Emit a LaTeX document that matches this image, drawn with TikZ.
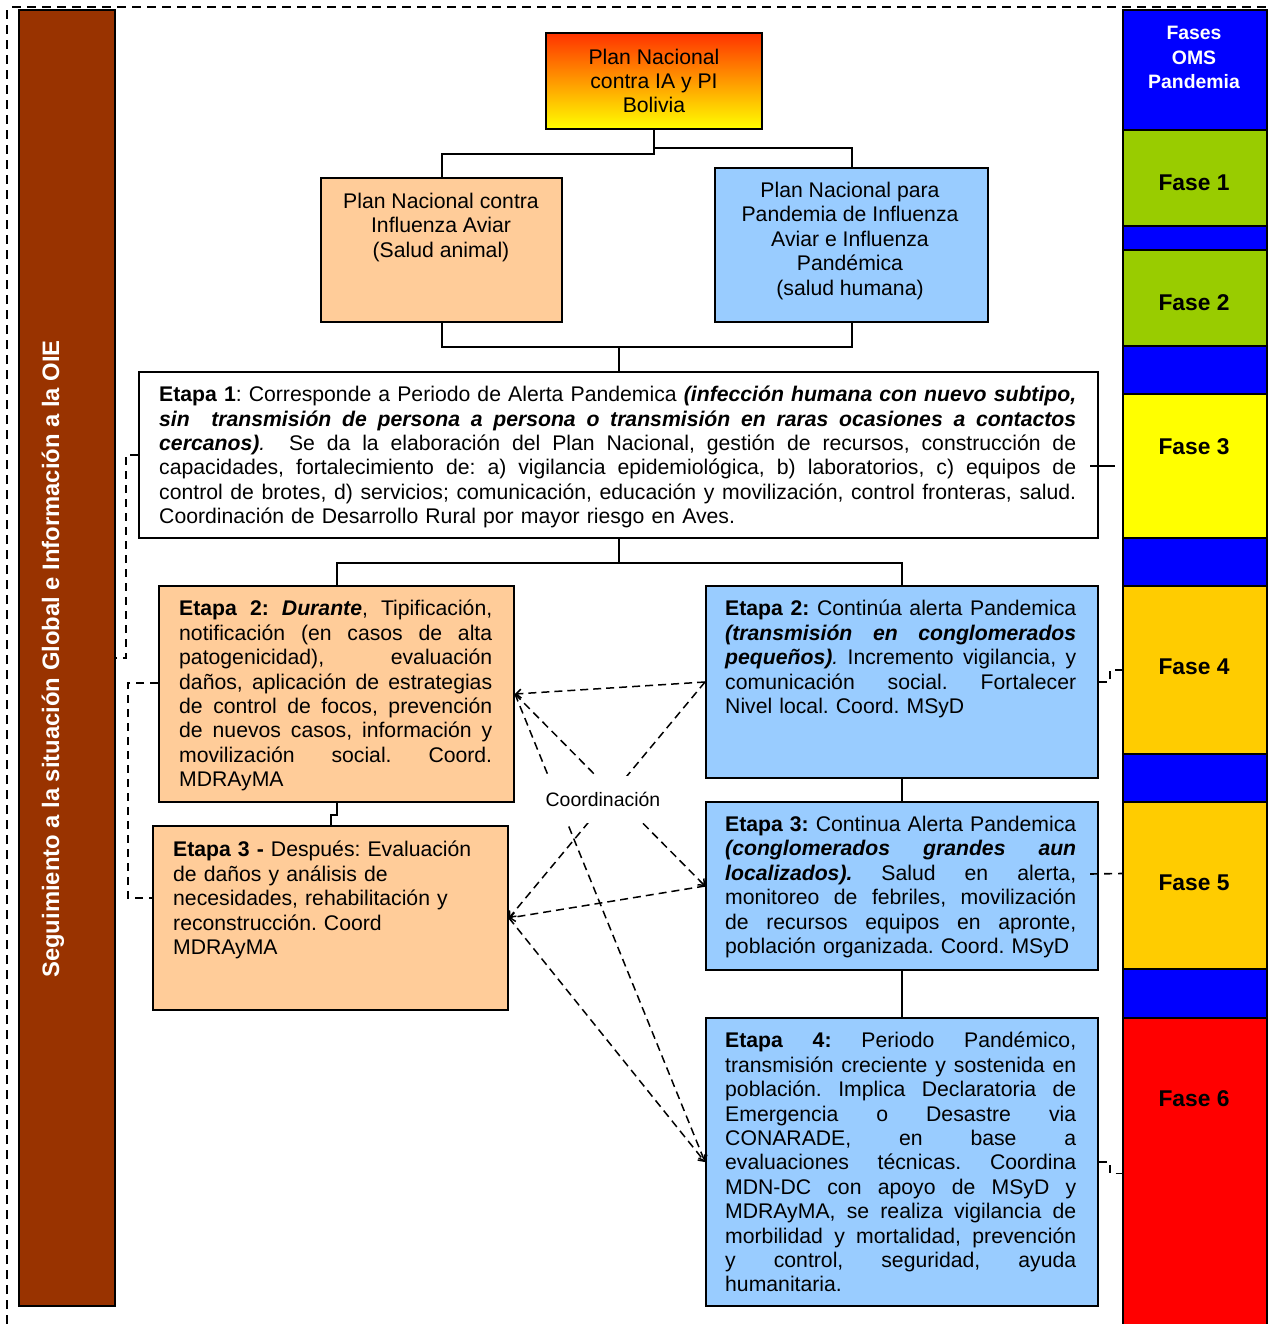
\documentclass[tikz,border=0pt]{standalone}
\usepackage{fontspec}
\setmainfont{Liberation Sans}
\usetikzlibrary{arrows.meta,calc}
\frenchspacing

\definecolor{barbrown}{HTML}{993300}
\definecolor{boxorange}{HTML}{FFCC99}
\definecolor{boxblue}{HTML}{99CCFF}
\definecolor{faseblue}{HTML}{0000FF}
\definecolor{fasegreen}{HTML}{99CC00}
\definecolor{faseyellow}{HTML}{FFFF00}
\definecolor{fasegold}{HTML}{FFCC00}
\definecolor{fasered}{HTML}{FF0000}
\definecolor{planred}{HTML}{FF3300}

% one fully justified line of a paragraph (word gaps share the extra room)
\newcommand{\jline}[1]{\noindent{\spaceskip=0.278em plus 1fil\relax\hbox to \hsize{#1}}\par}
\newcommand{\bodyfont}{\fontsize{21.2}{24.4}\selectfont}
\newcommand{\bi}[1]{\textbf{\textit{#1}}}

\begin{document}
\begin{tikzpicture}[x=1pt,y=-1pt,
  box/.style={draw=black, line width=2pt, rectangle, inner sep=0pt, anchor=north west},
  seg/.style={box, minimum width=144pt},
  txt/.style={inner sep=0pt, anchor=north west, font=\bodyfont},
  ctxt/.style={inner sep=0pt, anchor=north, font=\bodyfont, align=center},
  faselabel/.style={inner sep=0pt, anchor=base, font=\bfseries\fontsize{22.8}{26}\selectfont},
  link/.style={draw=black, line width=2pt},
  sidedash/.style={draw=black, line width=1.6pt, dash pattern=on 8pt off 6pt},
  coordline/.style={draw=black, line width=1.5pt, dash pattern=on 8pt off 5pt,
    -{Straight Barb[length=5pt,width=9pt]}},
]
\useasboundingbox (0,0) rectangle (1267,1324);

% outer dashed frame
\draw[line width=2pt, dash pattern=on 9pt off 6pt] (7,1324) -- (7,10);
\draw[line width=2pt, dash pattern=on 9pt off 6pt] (12,7.5) -- (1267,7.5);

% left vertical bar
\node[box, fill=barbrown, minimum width=96pt, minimum height=1296pt] (bar) at (18,9) {};
\node[rotate=90, text=white, inner sep=0pt, font=\bfseries\fontsize{23.8}{28}\selectfont]
  (bartext) at (53,659) {Seguimiento a la situación Global e Información a la OIE};

% WHO phases column
\node[seg, fill=faseblue,   minimum height=120pt] (f0) at (1122,9) {};
\node[seg, fill=fasegreen,  minimum height=96pt]  (f1) at (1122,129) {};
\node[seg, fill=faseblue,   minimum height=24pt]  (b1) at (1122,225) {};
\node[seg, fill=fasegreen,  minimum height=96pt]  (f2) at (1122,249) {};
\node[seg, fill=faseblue,   minimum height=48pt]  (b2) at (1122,345) {};
\node[seg, fill=faseyellow, minimum height=144pt] (f3) at (1122,393) {};
\node[seg, fill=faseblue,   minimum height=48pt]  (b3) at (1122,537) {};
\node[seg, fill=fasegold,   minimum height=168pt] (f4) at (1122,585) {};
\node[seg, fill=faseblue,   minimum height=48pt]  (b4) at (1122,753) {};
\node[seg, fill=fasegold,   minimum height=167pt] (f5) at (1122,801) {};
\node[seg, fill=faseblue,   minimum height=49pt]  (b5) at (1122,968) {};
\node[seg, fill=fasered,    minimum height=311pt] (f6) at (1122,1017) {};

\node[inner sep=0pt, anchor=north, align=center, text=white,
  font=\bfseries\fontsize{19.4}{24.5}\selectfont] (f0t) at (1194,26) {Fases\\OMS\\Pandemia};
\node[faselabel] (f1t) at (1194,190.2) {Fase 1};
\node[faselabel] (f2t) at (1194,310.2) {Fase 2};
\node[faselabel] (f3t) at (1194,454.2) {Fase 3};
\node[faselabel] (f4t) at (1194,674.2) {Fase 4};
\node[faselabel] (f5t) at (1194,890.2) {Fase 5};
\node[faselabel] (f6t) at (1194,1106.2) {Fase 6};

% national plan boxes
\node[box, anchor=center, top color=planred, bottom color=faseyellow,
  minimum width=216pt, minimum height=96pt, align=center, font=\bodyfont]
  (pn) at (654,81) {Plan Nacional\\contra IA y PI\\Bolivia};
\node[box, fill=boxorange, minimum width=241pt, minimum height=144pt] (lb) at (320,177) {};
\node[ctxt] (lbt) at (441,193) {Plan Nacional contra\\Influenza Aviar\\(Salud animal)};
\node[box, fill=boxblue, minimum width=273pt, minimum height=154pt] (rb) at (714,167) {};
\node[ctxt] (rbt) at (850,182) {Plan Nacional para\\Pandemia de Influenza\\Aviar e Influenza\\Pandémica\\(salud humana)};

% stage 1
\node[box, fill=white, minimum width=959pt, minimum height=166pt] (e1) at (138,371) {};
\node[txt, text width=917pt] (e1t) at (159,386) {%
\jline{\textbf{Etapa 1}: Corresponde a Periodo de Alerta Pandemica \bi{(infección humana con nuevo subtipo,}}
\jline{\bi{sin\ \ transmisión de persona a persona o transmisión en raras ocasiones a contactos}}
\jline{\bi{cercanos)}\textit{.}\ \ Se da la elaboración del Plan Nacional, gestión de recursos, construcción de}
\jline{capacidades, fortalecimiento de: a) vigilancia epidemiológica, b) laboratorios, c) equipos de}
\jline{control de brotes, d) servicios; comunicación, educación y movilización, control fronteras, salud.}
\noindent Coordinación de Desarrollo Rural por mayor riesgo en Aves.};

% stage 2, animal health
\node[box, fill=boxorange, minimum width=355pt, minimum height=216pt] (e2o) at (158,585) {};
\node[txt, text width=313pt] (e2ot) at (179,600) {%
\jline{\textbf{Etapa 2: \textit{Durante}}, Tipificación,}
\jline{notificación (en casos de alta}
\jline{patogenicidad), evaluación}
\jline{daños, aplicación de estrategias}
\jline{de control de focos, prevención}
\jline{de nuevos casos, información y}
\jline{movilización social. Coord.}
\noindent MDRAyMA};

% stage 3, animal health
\node[box, fill=boxorange, minimum width=355pt, minimum height=184pt] (e3o) at (152,825) {};
\node[txt, text width=320pt, align=left] (e3ot) at (173,841) {%
\textbf{Etapa 3 -} Después: Evaluación\\
de daños y análisis de\\
necesidades, rehabilitación y\\
reconstrucción. Coord\\
MDRAyMA};

% stage 2, human health
\node[box, fill=boxblue, minimum width=392pt, minimum height=192pt] (e2b) at (705,585) {};
\node[txt, text width=351pt] (e2bt) at (725,600) {%
\jline{\textbf{Etapa 2:} Continúa alerta Pandemica}
\jline{\bi{(transmisión en conglomerados}}
\jline{\bi{pequeños)}\textit{.} Incremento vigilancia, y}
\jline{comunicación social. Fortalecer}
\noindent Nivel local. Coord. MSyD};

% stage 3, human health
\node[box, fill=boxblue, minimum width=392pt, minimum height=168pt] (e3b) at (705,801) {};
\node[txt, text width=351pt] (e3bt) at (725,816) {%
\jline{\textbf{Etapa 3:} Continua Alerta Pandemica}
\jline{\bi{(conglomerados grandes aun}}
\jline{\bi{localizados).} Salud en alerta,}
\jline{monitoreo de febriles, movilización}
\jline{de recursos equipos en apronte,}
\noindent\mbox{población organizada. Coord. MSyD}};

% stage 4
\node[box, fill=boxblue, minimum width=392pt, minimum height=288pt] (e4b) at (705,1017) {};
\node[txt, text width=351pt] (e4bt) at (725,1032) {%
\jline{\textbf{Etapa 4:} Periodo Pandémico,}
\jline{transmisión creciente y sostenida en}
\jline{población. Implica Declaratoria de}
\jline{Emergencia o Desastre via}
\jline{CONARADE, en base a}
\jline{evaluaciones técnicas. Coordina}
\jline{MDN-DC con apoyo de MSyD y}
\jline{MDRAyMA, se realiza vigilancia de}
\jline{morbilidad y mortalidad, prevención}
\jline{y control, seguridad, ayuda}
\noindent humanitaria.};

% hierarchy links
\draw[link] (pn.south) -- ++(0,24) -| (lb.north);
\draw[link] (pn.south) -- ++(0,18) -| (rb.north);
\draw[link] (lb.south) -- ++(0,24) -| (e1.north);
\draw[link] (rb.south) -- ++(0,24) -| (e1.north);
\draw[link] (e1.south) -- ++(0,24) -| (e2o.north);
\draw[link] (e1.south) -- ++(0,24) -| (e2b.north);
\draw[link] (e2o.south) -- ++(0,12) -| (e3o.north);
\draw[link] (e2b.south) -- (e3b.north);
\draw[link] (e3b.south) -- (e4b.north);

% links to the monitoring bar
\draw[sidedash] (e1.west) -- ++(-12,0) |- (bar.east);
\draw[sidedash] ([yshift=11pt]e2o.west) -- ++(-30,0) |- ([yshift=20pt]e3o.west);

% links to the WHO phases
\draw[link] ([shift={(-9pt,-11pt)}]e1.east) -- ++(25,0);
\draw[sidedash] (e2b.east) -- ++(11,0) |- (f4.west);
\draw[sidedash] ([shift={(-9pt,12pt)}]e3b.east) -- ([yshift=12pt]f5.west);
\draw[sidedash] (e4b.east) -- ++(11,0) |- (f6.west);

% coordination between sectors
\draw[coordline] (e2b.west) -- (e2o.east);
\draw[coordline] (e2b.west) -- (e3o.east);
\draw[coordline] (e3b.west) -- (e3o.east);
\draw[coordline] (e2o.east) -- (e3b.west);
\draw[coordline] (e2o.east) -- (e4b.west);
\draw[coordline] (e3o.east) -- (e4b.west);
\node[fill=white, inner xsep=3pt, inner ysep=0pt, minimum height=47pt,
  font=\fontsize{19.45}{22}\selectfont] (coord) at (603,799) {Coordinación};

\end{tikzpicture}
\end{document}
